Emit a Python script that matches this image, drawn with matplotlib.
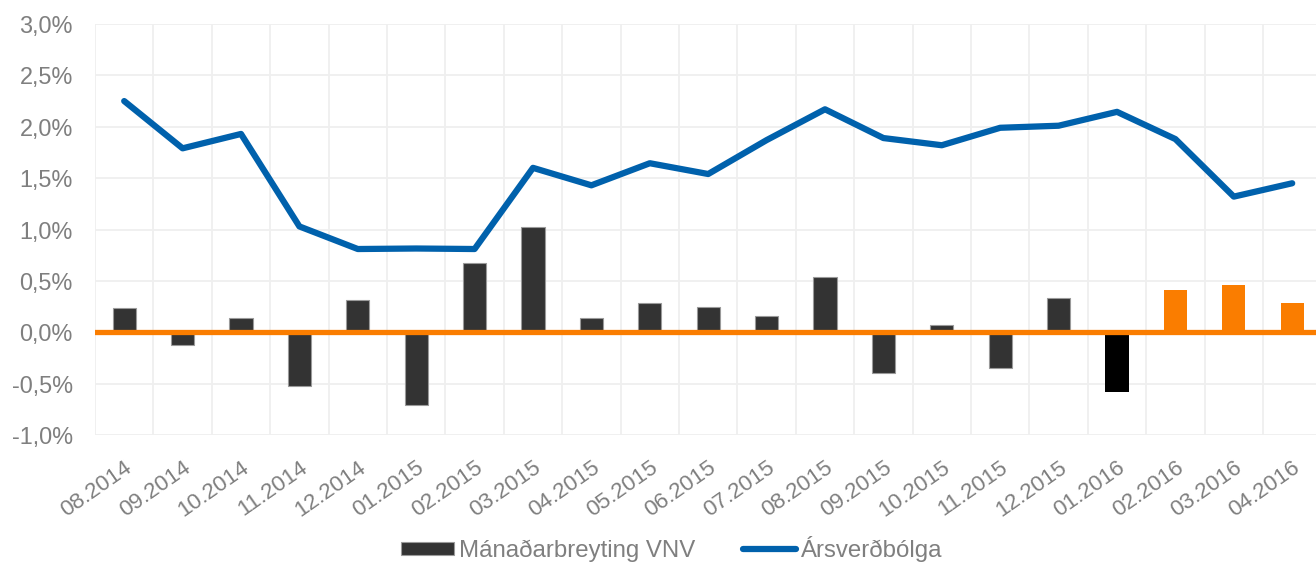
import matplotlib
matplotlib.use("Agg")
import matplotlib.pyplot as plt
import matplotlib.transforms as mtransforms
import numpy as np
from matplotlib.patches import Patch
from matplotlib.lines import Line2D
from matplotlib.ticker import FuncFormatter, MultipleLocator

plt.rcParams['font.family'] = ['Liberation Sans', 'DejaVu Sans']

months = ["08.2014", "09.2014", "10.2014", "11.2014", "12.2014", "01.2015",
          "02.2015", "03.2015", "04.2015", "05.2015", "06.2015", "07.2015",
          "08.2015", "09.2015", "10.2015", "11.2015", "12.2015", "01.2016",
          "02.2016", "03.2016", "04.2016"]
monthly_change = [0.24, -0.12, 0.14, -0.52, 0.31, -0.71, 0.67, 1.02, 0.14, 0.28,
                  0.25, 0.16, 0.54, -0.40, 0.07, -0.35, 0.33, -0.58, 0.41, 0.46, 0.28]
annual_inflation = [2.25, 1.79, 1.93, 1.03, 0.81, 0.815, 0.81, 1.60, 1.43, 1.645,
                    1.54, 1.87, 2.17, 1.89, 1.82, 1.99, 2.01, 2.145, 1.88, 1.32, 1.45]
# bar kind: 0 = actual, 1 = latest (black), 2 = forecast (orange)
bar_kind = [0] * 17 + [1] + [2] * 3

DARK = '#333333'
BLACK = '#000000'
ORANGE = '#FA7D00'
BLUE = '#0061AC'
GRAY_TXT = '#7F7F7F'
GRID = '#EFEFEF'

W, H = 1316, 562
fig = plt.figure(figsize=(W / 100, H / 100), dpi=100)
left, right, bottom, top = 95, 1321.4, 435, 24
ax = fig.add_axes([left / W, (H - bottom) / H, (right - left) / W, (bottom - top) / H])

x = np.arange(len(months))
face = [[DARK, BLACK, ORANGE][k] for k in bar_kind]
edge = [['#9A9A9A', 'none', 'none'][k] for k in bar_kind]
ax.bar(x, monthly_change, width=0.4, color=face, edgecolor=edge, linewidth=0.8, zorder=2)
ax.axhline(0, color=ORANGE, lw=3.8, zorder=3)
ax.plot(x, annual_inflation, color=BLUE, lw=4.5, solid_capstyle='round',
        solid_joinstyle='round', zorder=4, clip_on=False)

ax.set_xlim(-0.5, len(months) - 0.5)
ax.set_ylim(-1.0, 3.0)
ax.yaxis.set_major_locator(MultipleLocator(0.5))
ax.yaxis.set_major_formatter(FuncFormatter(lambda v, p: f"{v:.1f}%".replace('.', ',')))
ax.set_xticks(x)
ax.set_xticklabels(months, rotation=35, ha='right', va='top', rotation_mode='anchor',
                   fontsize=16.2)
shift = mtransforms.ScaledTranslation(-0.05, 0, fig.dpi_scale_trans)
for lab in ax.get_xticklabels():
    lab.set_transform(lab.get_transform() + shift)
ax.set_xticks(np.arange(-0.5, len(months), 1), minor=True)

ax.grid(axis='y', which='major', color=GRID, lw=1.3, zorder=0)
ax.grid(axis='x', which='minor', color=GRID, lw=1.3, zorder=0)
ax.set_axisbelow(True)
for s in ax.spines.values():
    s.set_visible(False)
ax.tick_params(axis='both', which='both', length=0, colors=GRAY_TXT)
ax.tick_params(axis='y', labelsize=16.9, pad=16)
ax.tick_params(axis='x', pad=16)

handles = [Patch(facecolor=DARK, edgecolor='#9A9A9A', linewidth=0.8),
           Line2D([0], [0], color=BLUE, lw=4.5, solid_capstyle='round')]
fig.legend(handles, ["Mánaðarbreyting VNV", "Ársverðbólga"], loc='center',
           bbox_to_anchor=(671.5 / W, (H - 549) / H), ncol=2, frameon=False,
           fontsize=17.3, labelcolor=GRAY_TXT, handlelength=2.2, handleheight=0.5,
           handletextpad=0.2, columnspacing=2.0, borderpad=0)

fig.savefig("out.png", dpi=100)
